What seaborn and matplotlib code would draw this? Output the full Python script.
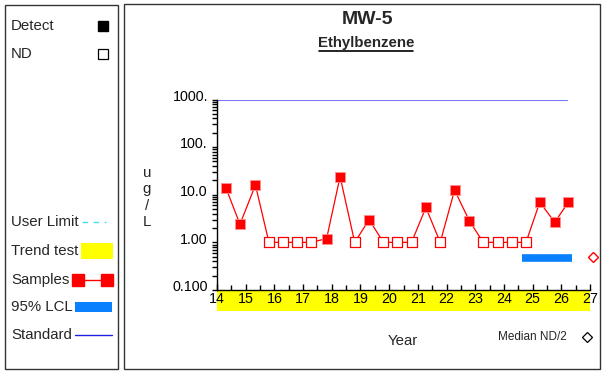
import matplotlib
matplotlib.use("Agg")
import matplotlib.pyplot as plt
import matplotlib.patches as mpatches
import matplotlib.lines as mlines
import matplotlib.ticker as mticker
import matplotlib.transforms as mtrans
import numpy as np
import pandas as pd
import seaborn as sns

# ---------------- data ----------------
years = [14.31, 14.80, 15.34, 15.81, 16.30, 16.79, 17.29, 17.82, 18.29, 18.80,
         19.30, 19.80, 20.27, 20.78, 21.28, 21.78, 22.28, 22.80, 23.28, 23.78,
         24.28, 24.77, 25.25, 25.77, 26.25]
values = [14, 2.4, 16, 1, 1, 1, 1, 1.2, 24, 1,
          3.0, 1, 1, 1, 5.4, 1, 12.5, 2.8, 1, 1,
          1, 1, 7.0, 2.65, 7.0]
detect = [True, True, True, False, False, False, False, True, True, False,
          True, False, False, False, True, False, True, True, False, False,
          False, False, True, True, True]
standard_value = 1000
standard_span = [14.0, 26.25]
lcl_value = 0.47
lcl_span = [24.64, 26.38]
median_nd2 = 0.5
median_year = 27.11
x_ticks = list(range(14, 28))
y_ticks = [0.1, 1, 10, 100, 1000]
y_tick_labels = ["0.100", "1.00", "10.0", "100.", "1000."]
title = "MW-5"
subtitle = "Ethylbenzene"

df = pd.DataFrame({"year": years, "value": values, "detect": detect})

# ---------------- style ----------------
sns.set_style("white")
plt.rcParams["font.family"] = ["Liberation Sans", "DejaVu Sans"]
plt.rcParams.update({"xtick.bottom": True, "ytick.left": True,
                     "xtick.color": "black", "ytick.color": "black"})

W, H = 604, 372
fig = plt.figure(figsize=(W / 100, H / 100), dpi=100)


def fx(x):
    return x / W


def fy(y):
    return 1 - y / H


# panel borders
for (x0, y0, x1, y1) in [(5, 5, 118, 369), (124, 4, 600, 369)]:
    fig.add_artist(mpatches.Rectangle((fx(x0), fy(y1)), fx(x1 - x0), (y1 - y0) / H,
                                      transform=fig.transFigure, fill=False,
                                      edgecolor="#333333", lw=1.0))

# ---------------- main axes ----------------
ax_l, ax_r, ax_top, ax_bot = 217, 590, 99.5, 290
ax = fig.add_axes([fx(ax_l), fy(ax_bot), (ax_r - ax_l) / W, (ax_bot - ax_top) / H])
ax.set_yscale("log")
ax.set_xlim(14, 27)
ax.set_ylim(0.1, 1000)

# trend-test yellow band below the axis
band = mpatches.Rectangle((fx(ax_l), fy(311)), (ax_r - ax_l) / W, (311 - 290) / H,
                          transform=fig.transFigure, facecolor="#FFFF00",
                          edgecolor="none", zorder=0)
fig.add_artist(band)

# standard line
ax.plot(standard_span, [standard_value, standard_value], color="#7878FF", lw=1.5,
        solid_capstyle="butt", zorder=2)

# LCL bar
ax.plot(lcl_span, [lcl_value, lcl_value], color="#0A80FF", lw=5.5,
        solid_capstyle="butt", zorder=2)

# samples
sns.lineplot(data=df, x="year", y="value", color="red", lw=0.9, ax=ax,
             estimator=None, sort=True, zorder=3)
sns.scatterplot(data=df[df.detect], x="year", y="value", marker="s", s=52,
                color="red", edgecolor="#ff9090", linewidth=0.6, ax=ax, zorder=4)
sns.scatterplot(data=df[~df.detect], x="year", y="value", marker="s", s=48,
                facecolor="white", edgecolor="red", linewidth=0.9, ax=ax, zorder=4)

# median ND/2 diamond outside the axes
ax.plot([median_year], [median_nd2], marker="D", ms=5, mfc="white", mec="red",
        mew=1.0, clip_on=False, zorder=5)

ax.set_xlabel("")
ax.set_ylabel("")
sns.despine(ax=ax, top=True, right=True)
for s in ["left", "bottom"]:
    ax.spines[s].set_color("black")
    ax.spines[s].set_linewidth(1.0)

ax.xaxis.set_major_locator(mticker.FixedLocator(x_ticks))
ax.xaxis.set_minor_locator(mticker.MultipleLocator(0.5))
ax.set_xticklabels([str(t) for t in x_ticks])

ax.yaxis.set_major_locator(mticker.FixedLocator(y_ticks))
ax.yaxis.set_minor_locator(mticker.LogLocator(base=10, subs=np.arange(2, 10),
                                              numticks=20))
ax.yaxis.set_minor_formatter(mticker.NullFormatter())
ax.set_yticklabels(y_tick_labels)

ax.tick_params(axis="x", which="major", direction="in", length=4.5, width=1.0,
               pad=1.5, labelsize=10.3, bottom=True, top=False, colors="black")
ax.tick_params(axis="x", which="minor", direction="in", length=3.5, width=1.0,
               bottom=True, top=False, colors="black")
ax.tick_params(axis="y", which="both", direction="out", length=3.5, width=1.0,
               pad=3, labelsize=10.3, left=True, right=False, colors="black")
off = mtrans.ScaledTranslation(0, 3 / 72, fig.dpi_scale_trans)
for lab in ax.get_yticklabels():
    lab.set_transform(lab.get_transform() + off)

# titles
fig.text(fx(367), fy(20), title, ha="center", va="center", fontsize=14,
         fontweight="bold")
fig.text(fx(366), fy(43), subtitle, ha="center", va="center", fontsize=10.8,
         fontweight="bold")
fig.add_artist(mlines.Line2D([fx(319), fx(413)], [fy(51), fy(51)],
                             transform=fig.transFigure, color="black", lw=1.2))

# y label stacked
for i, ch in enumerate(["u", "g", "/", "L"]):
    fig.text(fx(147), fy(173 + 16.5 * i), ch, ha="center", va="center", fontsize=10.8)

fig.text(fx(403), fy(341), "Year", ha="center", va="center", fontsize=10.8)
fig.text(fx(532), fy(337), "Median ND/2", ha="center", va="center", fontsize=8.5)
fig.add_artist(mlines.Line2D([fx(587)], [fy(337)], transform=fig.transFigure,
                             marker="D", ms=5, mfc="white", mec="black", mew=0.9,
                             lw=0))

# ---------------- legend panel ----------------
lfs = 10.8
fig.text(fx(11), fy(26), "Detect", ha="left", va="center", fontsize=lfs)
fig.add_artist(mlines.Line2D([fx(103)], [fy(26)], transform=fig.transFigure,
                             marker="s", ms=7.5, mfc="black", mec="black", lw=0))
fig.text(fx(11), fy(54), "ND", ha="left", va="center", fontsize=lfs)
fig.add_artist(mlines.Line2D([fx(103)], [fy(54)], transform=fig.transFigure,
                             marker="s", ms=7.5, mfc="white", mec="black",
                             mew=0.9, lw=0))

fig.text(fx(11), fy(222), "User Limit", ha="left", va="center", fontsize=lfs)
fig.add_artist(mlines.Line2D([fx(82), fx(106)], [fy(222), fy(222)],
                             transform=fig.transFigure, color="#40E0F0", lw=1.0,
                             dashes=(4, 4)))

fig.text(fx(11), fy(251), "Trend test", ha="left", va="center", fontsize=lfs)
fig.add_artist(mpatches.Rectangle((fx(81), fy(259)), fx(32), 16 / H,
                                  transform=fig.transFigure, facecolor="#FFFF00",
                                  edgecolor="none"))

fig.text(fx(11), fy(280), "Samples", ha="left", va="center", fontsize=lfs)
fig.add_artist(mlines.Line2D([fx(78), fx(107)], [fy(280), fy(280)],
                             transform=fig.transFigure, color="red", lw=1.0))
for xx in (78, 107):
    fig.add_artist(mlines.Line2D([fx(xx)], [fy(280)], transform=fig.transFigure,
                                 marker="s", ms=8, mfc="red", mec="red", lw=0))

fig.text(fx(11), fy(307), "95% LCL", ha="left", va="center", fontsize=lfs)
fig.add_artist(mpatches.Rectangle((fx(75), fy(312)), fx(37), 10 / H,
                                  transform=fig.transFigure, facecolor="#0A80FF",
                                  edgecolor="none"))

fig.text(fx(11), fy(335), "Standard", ha="left", va="center", fontsize=lfs)
fig.add_artist(mlines.Line2D([fx(75), fx(112)], [fy(335), fy(335)],
                             transform=fig.transFigure, color="#2020E0", lw=1.0))

fig.savefig("out.png", dpi=100)
